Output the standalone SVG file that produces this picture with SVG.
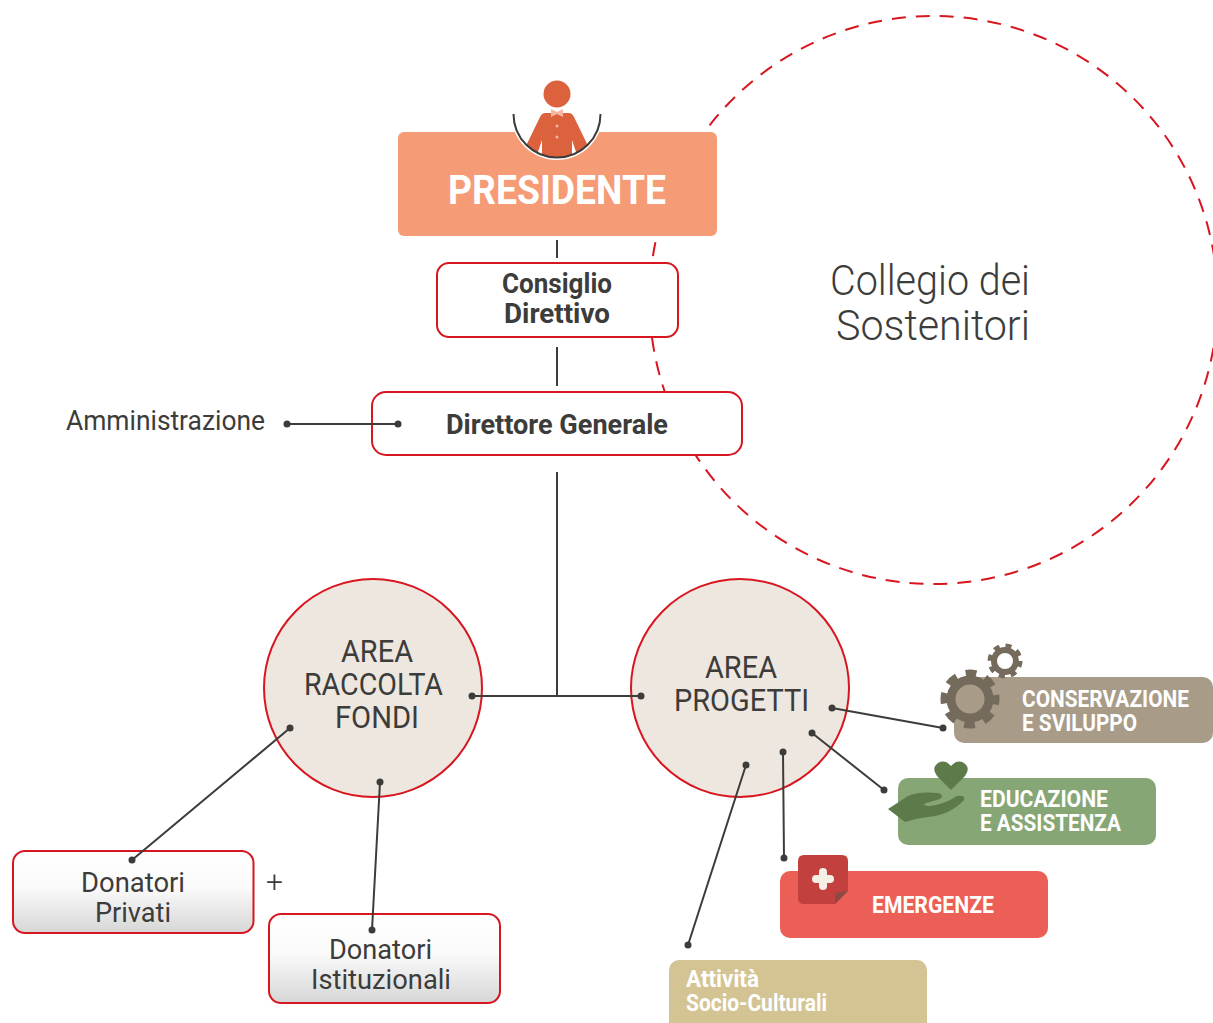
<svg xmlns="http://www.w3.org/2000/svg" width="1213" height="1023" viewBox="0 0 1213 1023">
<defs>
<linearGradient id="g" x1="0" y1="0" x2="0" y2="1"><stop offset="0" stop-color="#fff"/><stop offset="0.45" stop-color="#fafafa"/><stop offset="1" stop-color="#d6d6d6"/></linearGradient>
<clipPath id="bowl"><circle cx="557" cy="114" r="44"/></clipPath>
</defs>
<style>
text{font-family:Roboto,"Liberation Sans",sans-serif;text-anchor:start}
.b{font-weight:700;fill:#3c3c3b}
.r{font-weight:400;fill:#3c3c3b}
.l{font-weight:300;fill:#3c3c3b}
.w{font-weight:700;fill:#fff}
.box{fill:#fff;stroke:#d8161f;stroke-width:2}
.grad{fill:url(#g);stroke:#d8161f;stroke-width:2}
.area{fill:#ede7df;stroke:#d8161f;stroke-width:2}
.ln{stroke:#3c3c3b;stroke-width:2;fill:none}
.dot{fill:#3c3c3b}
</style>
<g id="collegio">
<circle cx="933.500" cy="300" r="284" fill="none" stroke="#d8161f" stroke-width="2" stroke-dasharray="14 10"/>
<text class="l" x="830" y="295" font-size="42" textLength="200" lengthAdjust="spacingAndGlyphs">Collegio dei</text>
<text class="l" x="836" y="340" font-size="42" textLength="194" lengthAdjust="spacingAndGlyphs">Sostenitori</text>
</g>
<g id="presidente">
<rect x="398" y="132" width="319" height="104" rx="6" fill="#f59b75"/>
<path d="M511 132H603V114A46 46 0 0 1 511 114Z" fill="#fff"/>
<circle cx="557" cy="94" r="13.500" fill="#dc623d"/>
<g clip-path="url(#bowl)">
<path d="M545 113H569Q572 113 574 117L590 150L578 158L572 140V160H542V140L536 158L524 150L540 117Q542 113 545 113Z" fill="#dc623d"/>
</g>
<path d="M551 109L557 112L563 109V117L557 114L551 117Z" fill="#f7b6a0"/>
<circle cx="557" cy="126" r="1.500" fill="#f7b6a0"/>
<circle cx="557" cy="137" r="1.500" fill="#f7b6a0"/>
<path d="M513.500 114A43.500 43.500 0 0 0 600.500 114" fill="none" stroke="#3c3c3b" stroke-width="2"/>
<text class="w" x="448" y="204" font-size="40" textLength="218" lengthAdjust="spacingAndGlyphs">PRESIDENTE</text>
</g>
<g id="consiglio">
<rect class="box" x="437" y="263" width="241" height="74" rx="12"/>
<text class="b" x="502" y="293" font-size="27" textLength="110" lengthAdjust="spacingAndGlyphs">Consiglio</text>
<text class="b" x="504" y="323" font-size="27" textLength="106" lengthAdjust="spacingAndGlyphs">Direttivo</text>
</g>
<g id="direttore">
<rect class="box" x="372" y="392" width="370" height="63" rx="14"/>
<text class="b" x="446" y="434" font-size="27" textLength="222" lengthAdjust="spacingAndGlyphs">Direttore Generale</text>
</g>
<g id="amministrazione">
<text class="r" x="66" y="430" font-size="28" textLength="199" lengthAdjust="spacingAndGlyphs">Amministrazione</text>
</g>
<g id="area-raccolta">
<circle class="area" cx="373" cy="688" r="109"/>
<text class="r" x="341" y="662" font-size="32" textLength="72" lengthAdjust="spacingAndGlyphs">AREA</text>
<text class="r" x="304" y="695" font-size="32" textLength="139" lengthAdjust="spacingAndGlyphs">RACCOLTA</text>
<text class="r" x="335" y="728" font-size="32" textLength="84" lengthAdjust="spacingAndGlyphs">FONDI</text>
</g>
<g id="area-progetti">
<circle class="area" cx="740" cy="688" r="109"/>
<text class="r" x="705" y="678" font-size="32" textLength="72" lengthAdjust="spacingAndGlyphs">AREA</text>
<text class="r" x="674" y="711" font-size="32" textLength="135" lengthAdjust="spacingAndGlyphs">PROGETTI</text>
</g>
<g id="donatori-privati">
<rect class="grad" x="13" y="851" width="240.500" height="82" rx="12"/>
<text class="r" x="81" y="892" font-size="28" textLength="104" lengthAdjust="spacingAndGlyphs">Donatori</text>
<text class="r" x="95" y="922" font-size="28" textLength="76" lengthAdjust="spacingAndGlyphs">Privati</text>
</g>
<g id="plus"><text class="l" x="266" y="892" font-size="30">+</text></g>
<g id="donatori-istituzionali">
<rect class="grad" x="269" y="914" width="231" height="89" rx="12"/>
<text class="r" x="329" y="959" font-size="28" textLength="103" lengthAdjust="spacingAndGlyphs">Donatori</text>
<text class="r" x="311" y="989" font-size="28" textLength="140" lengthAdjust="spacingAndGlyphs">Istituzionali</text>
</g>
<g id="conservazione">
<rect x="954" y="677" width="259" height="66" rx="10" fill="#a89b88"/>
<circle cx="1005" cy="661" r="14" fill="none" stroke="#756b5d" stroke-width="7" stroke-dasharray="5.500 5.500"/>
<circle cx="1005" cy="661" r="11" fill="#fff" stroke="#756b5d" stroke-width="6"/>
<circle cx="970" cy="699" r="25" fill="none" stroke="#756b5d" stroke-width="9" stroke-dasharray="10.500 9.130" stroke-dashoffset="5"/>
<circle cx="970" cy="699" r="19" fill="#a89b88" stroke="#756b5d" stroke-width="9"/>
<text class="w" x="1022" y="707" font-size="24" textLength="167" lengthAdjust="spacingAndGlyphs">CONSERVAZIONE</text>
<text class="w" x="1022" y="731" font-size="24" textLength="115" lengthAdjust="spacingAndGlyphs">E SVILUPPO</text>
</g>
<g id="educazione">
<rect x="898" y="778" width="258" height="67" rx="10" fill="#86a676"/>
<path d="M951 790L937 776Q931 768 938 763Q945 759 951 766Q957 759 964 763Q971 768 965 776Z" fill="#5d7a4a"/>
<path d="M888 809L908 796Q918 791 938 793Q945 795 940 799L926 803Q921 806 930 806Q945 804 957 796Q966 795 964 800Q950 815 928 817Q917 818 905 822Z" fill="#5d7a4a"/>
<text class="w" x="980" y="807" font-size="24" textLength="128" lengthAdjust="spacingAndGlyphs">EDUCAZIONE</text>
<text class="w" x="980" y="831" font-size="24" textLength="141" lengthAdjust="spacingAndGlyphs">E ASSISTENZA</text>
</g>
<g id="emergenze">
<rect x="780" y="871" width="268" height="67" rx="10" fill="#ec5f57"/>
<path d="M804 855H842Q848 855 848 861V891L835 904H804Q798 904 798 898V861Q798 855 804 855Z" fill="#c2403e"/>
<path d="M848 891L835 904V897Q835 892 840 892Z" fill="#8c4a42"/>
<path d="M823 872V886M816 879H830" stroke="#f6efe5" stroke-width="8" stroke-linecap="round" fill="none"/>
<text class="w" x="872" y="913" font-size="24" textLength="122" lengthAdjust="spacingAndGlyphs">EMERGENZE</text>
</g>
<g id="attivita">
<rect x="669" y="960" width="258" height="72" rx="10" fill="#d4c494"/>
<text class="w" x="686" y="987" font-size="24" textLength="73" lengthAdjust="spacingAndGlyphs">Attività</text>
<text class="w" x="686" y="1011" font-size="24" textLength="141" lengthAdjust="spacingAndGlyphs">Socio-Culturali</text>
</g>
<g id="connectors">
<path class="ln" d="M557 240V258M557 347V386M557 472V696M472 696H641M287 424H398M290 728L132 860M380 782L372 930M832 708L943 728M812 733L884 790M783 752L784 858M746 765L688 945"/>
<g class="dot">
<circle cx="287" cy="424" r="3.500"/><circle cx="398" cy="424" r="3.500"/>
<circle cx="472" cy="696" r="3.500"/><circle cx="641" cy="696" r="3.500"/>
<circle cx="290" cy="728" r="3.500"/><circle cx="132" cy="860" r="3.500"/>
<circle cx="380" cy="782" r="3.500"/><circle cx="372" cy="930" r="3.500"/>
<circle cx="832" cy="708" r="3.500"/><circle cx="943" cy="728" r="3.500"/>
<circle cx="812" cy="733" r="3.500"/><circle cx="884" cy="790" r="3.500"/>
<circle cx="783" cy="752" r="3.500"/><circle cx="784" cy="858" r="3.500"/>
<circle cx="746" cy="765" r="3.500"/><circle cx="688" cy="945" r="3.500"/>
</g>
</g>
</svg>
